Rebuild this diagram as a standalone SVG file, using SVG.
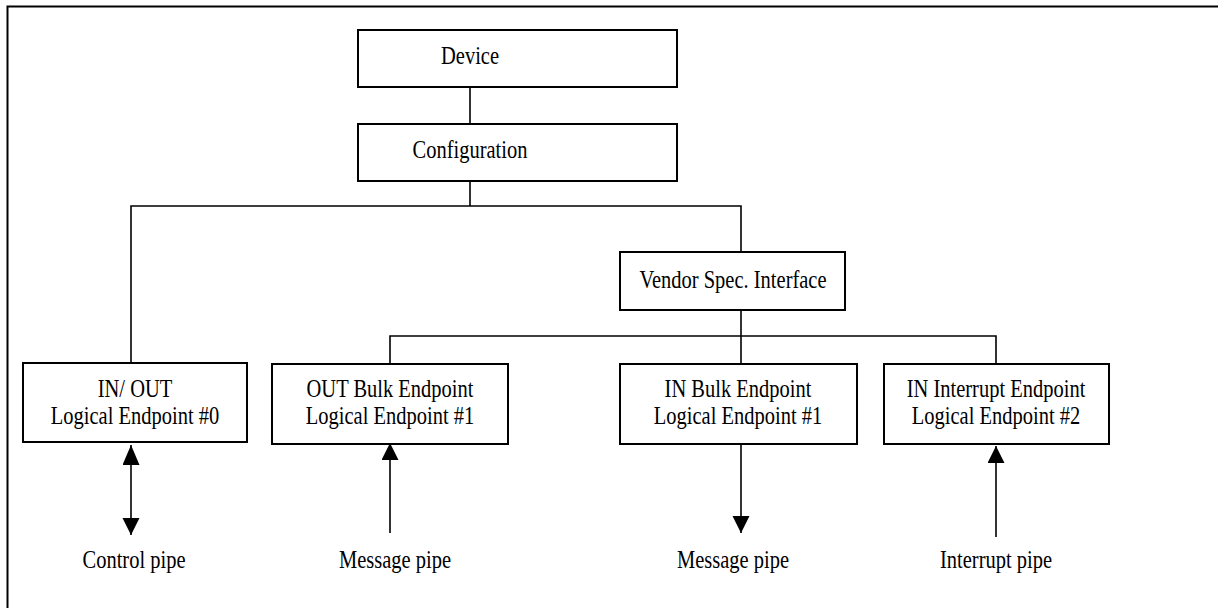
<svg xmlns="http://www.w3.org/2000/svg" width="1218" height="608" viewBox="0 0 1218 608">
<style>
.box{fill:#fff;stroke:#000;stroke-width:2}
.ln{fill:none;stroke:#000;stroke-width:1.6}
.t{font-family:"Liberation Serif","Times New Roman",serif;font-size:20.5px;text-anchor:middle;fill:#000}
</style>
<defs>
<marker id="ah" viewBox="0 0 17 20" refX="17" refY="8.5" markerWidth="17" markerHeight="20" markerUnits="userSpaceOnUse" orient="auto">
<path d="M0,0 L17,8.5 L0,17 Z" fill="#000"/>
</marker>
<marker id="ahs" viewBox="0 0 20 17" refX="0" refY="8.5" markerWidth="20" markerHeight="17" markerUnits="userSpaceOnUse" orient="auto">
<path d="M20,0 L0,8.5 L20,17 Z" fill="#000"/>
</marker>
</defs>
<rect width="1218" height="608" fill="#fff"/>
<path d="M7.5,608 V6.5 H1218" fill="none" stroke="#000" stroke-width="2"/>
<g id="connectors">
<path class="ln" d="M470,87 V124"/>
<path class="ln" d="M470,181 V206 M131,363 V206 H741 V252"/>
<path class="ln" d="M741,310 V364 M390,364 V336 H996 V364"/>
<path class="ln" d="M131,445 V535" marker-start="url(#ahs)" marker-end="url(#ah)"/>
<path class="ln" d="M390,533 V443" marker-end="url(#ah)"/>
<path class="ln" d="M741,443 V533" marker-end="url(#ah)"/>
<path class="ln" d="M996,537 V446" marker-end="url(#ah)"/>
</g>
<g id="device">
<rect class="box" x="358" y="30" width="319" height="57"/>
<text class="t" transform="translate(470,64) scale(1,1.2)">Device</text>
</g>
<g id="configuration">
<rect class="box" x="358" y="124" width="319" height="57"/>
<text class="t" transform="translate(470,158) scale(1,1.2)">Configuration</text>
</g>
<g id="vendor">
<rect class="box" x="620" y="252" width="225" height="58"/>
<text class="t" transform="translate(733,288) scale(1,1.2)">Vendor Spec. Interface</text>
</g>
<g id="ep0">
<rect class="box" x="23" y="363" width="224" height="79"/>
<text class="t" transform="translate(135,397) scale(1,1.2)">IN/ OUT</text>
<text class="t" transform="translate(135,424) scale(1,1.2)">Logical Endpoint #0</text>
</g>
<g id="ep1out">
<rect class="box" x="272" y="364" width="236" height="80"/>
<text class="t" transform="translate(390,397) scale(1,1.2)">OUT Bulk Endpoint</text>
<text class="t" transform="translate(390,424) scale(1,1.2)">Logical Endpoint #1</text>
</g>
<g id="ep1in">
<rect class="box" x="620" y="364" width="237" height="80"/>
<text class="t" transform="translate(738,397) scale(1,1.2)">IN Bulk Endpoint</text>
<text class="t" transform="translate(738,424) scale(1,1.2)">Logical Endpoint #1</text>
</g>
<g id="ep2">
<rect class="box" x="884" y="364" width="225" height="80"/>
<text class="t" transform="translate(996,397) scale(1,1.2)">IN Interrupt Endpoint</text>
<text class="t" transform="translate(996,424) scale(1,1.2)">Logical Endpoint #2</text>
</g>
<g id="labels">
<text class="t" transform="translate(134,568) scale(1,1.2)">Control pipe</text>
<text class="t" transform="translate(395,568) scale(1,1.2)">Message pipe</text>
<text class="t" transform="translate(733,568) scale(1,1.2)">Message pipe</text>
<text class="t" transform="translate(996,568) scale(1,1.2)">Interrupt pipe</text>
</g>
</svg>
